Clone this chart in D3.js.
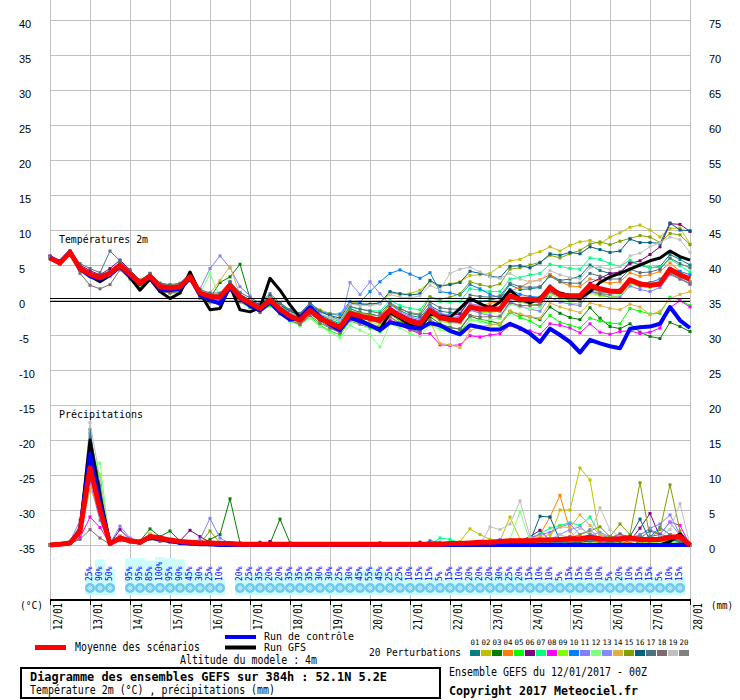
<!DOCTYPE html>
<html>
<head>
<meta charset="utf-8">
<script src="https://cdn.jsdelivr.net/npm/d3@7"></script>
<style>
body{margin:0;background:#fff}
svg{display:block}
</style>
</head>
<body>
<div id="chart"></div>
<script>
// GEFS ensemble diagram, 52.1N 5.2E, run 12/01/2017 00Z, 6-hourly steps 0..384h
const dates = ['12/01','13/01','14/01','15/01','16/01','17/01','18/01','19/01','20/01',
  '21/01','22/01','23/01','24/01','25/01','26/01','27/01','28/01'];
const leftTicks = [40,35,30,25,20,15,10,5,0,-5,-10,-15,-20,-25,-30,-35];
const rightTicks = [75,70,65,60,55,50,45,40,35,30,25,20,15,10,5,0];
const pertNames = ['01','02','03','04','05','06','07','08','09','10','11','12','13','14','15','16','17','18','19','20'];
const pertColors = ['#008080','#c0c000','#008000','#ff8000','#00ff00','#800080','#00ff80','#ff00ff','#80ff00','#0080ff',
  '#8080ff','#80ff80','#8888ff','#e0b040','#80a000','#006080','#507080','#806870','#c0c0c0','#808080'];

// temperature 2m (°C)
const tMean = [6.0,5.3,6.8,4.5,3.7,3.2,3.8,5.0,3.7,2.4,3.4,1.9,1.7,
  1.9,3.3,1.0,0.5,0.4,2.1,0.4,-0.4,-1.2,0.0,-1.3,-2.3,-2.9,
  -1.5,-2.6,-3.3,-3.9,-1.9,-2.3,-2.6,-2.9,-1.4,-2.3,-3.0,-3.4,-1.5,
  -2.5,-2.8,-2.9,-1.0,-1.3,-1.3,-1.3,0.6,0.1,0.1,0.0,1.8,0.7,
  0.6,0.6,2.1,1.6,1.3,1.2,2.9,2.3,2.1,2.3,4.4,3.6,3.0];
const tCtrl = [6.1,5.4,6.9,4.4,3.4,3.0,3.6,4.8,3.5,2.3,3.3,1.5,1.4,
  1.6,3.2,0.7,0.0,-0.5,1.8,0.3,-0.8,-1.5,-0.3,-1.8,-2.8,-2.6,
  -1.0,-2.4,-3.5,-4.3,-2.5,-3.0,-3.6,-4.3,-3.2,-3.5,-3.9,-4.1,-3.3,
  -3.6,-4.4,-4.9,-3.6,-3.9,-4.2,-4.2,-3.4,-4.0,-4.8,-6.0,-4.1,-5.0,
  -6.0,-7.5,-5.7,-6.2,-6.6,-6.9,-4.1,-3.9,-3.8,-3.4,-1.0,-2.9,-4.0];
const tGfs = [6.0,5.2,6.7,4.6,3.4,2.6,3.5,4.8,3.2,1.4,3.0,1.2,0.2,
  1.0,4.0,1.0,-1.4,-1.2,2.0,-1.4,-1.7,-1.1,3.1,1.4,-0.7,-2.5,
  -1.4,-2.8,-3.3,-4.0,-2.2,-2.8,-3.6,-4.2,-1.8,-2.6,-3.6,-3.9,-2.0,
  -2.3,-2.5,-1.2,0.2,-0.5,-1.2,-0.3,1.4,0.2,-0.4,0.3,1.7,1.0,
  0.6,0.2,1.2,2.5,3.3,3.8,4.4,5.0,5.6,6.0,7.0,6.2,5.7];
const t01 = [6.1,5.5,6.9,4.8,3.9,3.5,4.2,5.3,4.0,2.7,3.8,2.3,2.0,
  2.2,3.6,1.3,0.8,0.5,2.6,0.8,-0.2,-0.9,0.4,-1.0,-1.8,-2.5,
  -1.0,-2.1,-2.8,-3.4,-1.2,-1.8,-2.0,-2.3,-0.6,-1.5,-2.2,-2.5,-0.8,
  -1.6,-1.8,-1.9,0.2,-0.2,0.0,0.3,2.2,1.5,1.6,1.8,3.6,2.8,
  3.0,3.4,5.0,4.2,3.8,3.7,5.5,5.0,4.6,4.8,6.5,5.8,5.0];
const t02 = [6.0,5.4,6.8,4.6,3.8,3.0,3.4,4.7,3.9,2.9,3.6,2.4,2.1,
  2.3,3.4,0.9,0.6,0.9,2.4,0.2,-0.3,-0.8,0.6,-0.5,-1.5,-2.0,
  -0.6,-1.4,-1.9,-2.3,-0.3,-0.5,-0.6,-0.5,1.0,0.8,0.9,1.4,2.6,
  1.9,2.3,2.6,3.5,3.6,3.8,4.8,5.6,5.8,6.5,6.9,7.6,7.0,
  7.8,8.3,8.5,8.0,9.0,9.6,10.4,10.7,10.0,9.0,10.2,10.3,8.0];
const t03 = [6.2,5.2,6.9,4.5,3.9,3.4,3.9,5.2,3.8,2.4,3.7,1.9,1.5,
  2.0,3.5,0.9,0.3,2.5,3.3,5.1,0.2,-1.0,0.3,-1.5,-2.6,-3.4,
  -1.9,-3.0,-3.9,-4.6,-2.5,-3.0,-3.5,-3.8,-2.0,-3.0,-3.8,-4.3,-2.4,
  -3.4,-3.9,-4.2,-2.3,-2.8,-3.0,-3.4,-1.6,-2.1,-2.4,-2.8,-1.0,-1.9,
  -2.5,-2.8,-1.1,-2.6,-3.8,-4.1,-3.4,-4.6,-5.2,-5.5,-3.2,-3.8,-4.5];
const t04 = [6.0,5.3,6.7,4.3,3.5,3.0,3.6,4.9,3.3,2.0,3.0,1.5,1.1,
  1.3,3.0,0.4,-0.4,-0.5,1.6,-0.1,-0.9,-1.6,-0.4,-1.6,-2.6,-3.1,
  -1.8,-2.9,-3.6,-4.1,-2.2,-2.5,-2.9,-3.3,-1.6,-2.4,-3.0,-3.5,-1.6,
  -2.4,-2.6,-2.6,-0.6,-0.8,-0.5,-0.2,1.3,1.8,2.6,2.9,3.6,2.6,
  2.0,1.9,3.0,2.7,2.4,2.6,3.9,3.4,3.6,4.1,5.3,4.1,2.6];
const t05 = [5.9,5.2,6.6,4.2,3.4,2.9,3.4,4.6,3.3,2.0,3.2,1.3,1.0,
  1.0,3.0,0.2,-0.3,-0.6,1.4,-0.3,-1.1,-1.7,-0.8,-2.0,-3.0,-3.6,
  -2.4,-3.6,-4.4,-5.0,-3.0,-3.5,-4.0,-4.5,-3.0,-3.6,-4.2,-4.6,-3.0,
  -3.9,-4.3,-4.6,-2.8,-3.0,-3.4,-3.6,-1.8,-2.5,-3.0,-3.8,-2.2,-3.2,
  -3.6,-4.0,-2.6,-3.0,-3.3,-3.4,-1.2,-1.6,-2.0,-1.9,0.4,0.0,-0.8];
const t06 = [6.3,5.5,7.0,5.0,4.2,3.6,4.5,5.7,4.3,2.8,3.6,2.2,2.0,
  2.1,3.3,0.7,0.3,0.2,1.9,0.6,-0.2,-1.0,0.2,-1.1,-2.1,-2.7,
  -1.3,-2.4,-3.0,-3.7,-1.8,-2.2,-2.4,-2.6,-1.0,-1.9,-2.6,-3.0,-1.0,
  -2.0,-2.2,-2.0,0.0,-0.5,-0.9,-1.2,0.5,-0.2,-0.6,-0.8,1.0,0.6,
  0.3,0.5,2.4,3.1,3.8,4.0,5.2,5.6,6.5,7.6,10.9,10.8,9.8];
const t07 = [6.0,5.4,6.8,4.7,3.8,3.3,3.9,5.1,3.9,2.6,3.5,2.0,1.8,
  2.0,3.3,1.2,0.7,0.6,2.2,0.6,-0.1,-0.8,0.5,-0.8,-1.7,-2.4,
  -0.8,-2.0,-2.6,-3.1,-1.0,-1.3,-1.5,-1.6,0.0,-0.8,-1.2,-1.4,0.5,
  -0.2,-0.3,-0.2,1.6,1.4,1.2,1.2,3.0,3.2,3.6,3.8,5.1,4.8,
  4.5,4.4,6.0,5.8,5.2,4.8,5.7,5.0,4.6,4.7,5.9,4.9,4.0];
const t08 = [5.9,5.2,6.6,4.3,3.6,3.1,3.6,4.8,3.5,2.2,3.2,1.6,1.4,
  1.6,3.1,0.7,0.2,0.1,1.8,0.1,-0.6,-1.4,-0.2,-1.6,-2.6,-3.2,
  -1.9,-3.0,-3.8,-4.6,-2.8,-3.3,-3.8,-4.2,-2.8,-3.6,-4.3,-4.8,-4.8,
  -6.4,-6.5,-6.4,-5.1,-5.3,-5.0,-4.8,-3.6,-4.2,-4.4,-4.9,-3.4,-3.6,
  -4.0,-4.7,-3.4,-4.6,-4.9,-4.5,-4.4,-4.8,-4.6,-4.0,-1.1,-0.1,-1.0];
const t09 = [6.0,5.3,6.8,4.4,3.6,3.2,3.8,5.0,3.6,2.3,3.4,1.8,1.6,
  1.8,3.2,0.8,0.3,0.2,2.0,0.2,-0.6,-1.4,-0.2,-1.6,-2.7,-3.3,
  -1.9,-3.0,-3.7,-4.3,-2.4,-2.8,-3.2,-3.5,-2.0,-2.9,-3.6,-4.0,-2.1,
  -3.0,-3.3,-3.3,-1.5,-1.8,-1.8,-1.6,0.2,-0.3,-0.6,-0.7,1.1,0.1,
  -0.4,-0.6,1.0,0.6,0.4,0.6,2.3,1.9,1.8,2.1,3.8,3.3,2.6];
const t10 = [6.1,5.4,6.9,4.7,3.9,3.4,4.0,5.2,3.8,2.6,3.7,2.1,1.8,
  2.0,3.4,1.0,0.6,0.6,2.3,0.8,0.0,-0.7,0.6,-0.6,-1.6,-2.0,
  -0.4,-1.6,-2.0,-2.0,-0.2,-0.3,1.2,2.6,3.8,4.3,3.7,3.1,3.9,
  1.2,1.0,0.7,2.2,1.6,0.8,0.3,1.5,0.8,0.5,0.4,2.0,0.9,
  0.4,0.2,1.6,1.2,1.0,1.4,2.8,2.4,2.5,3.0,4.4,4.1,3.6];
const t11 = [6.0,5.3,6.8,4.6,3.5,3.1,3.9,5.0,3.8,2.5,3.5,2.2,2.0,
  2.2,3.6,1.6,4.5,6.3,4.6,1.9,0.6,-0.8,0.5,-1.2,-2.2,-2.9,
  -1.3,-2.6,-3.4,-4.0,-1.5,-2.1,-2.6,-3.0,-1.2,-2.2,-3.0,-3.5,-1.4,
  -2.6,-3.0,-3.2,-1.4,-1.9,-2.2,-2.5,-0.2,-0.9,-1.3,-1.6,0.4,-0.3,
  -0.6,-0.8,1.2,0.8,0.4,0.4,2.0,1.5,1.2,1.8,3.6,3.0,2.4];
const t12 = [5.9,5.1,6.6,4.3,3.5,3.0,3.5,4.7,3.5,2.1,3.8,1.6,1.5,
  1.6,3.9,0.8,3.8,0.3,1.8,0.0,-0.8,-1.6,-0.4,-2.0,-3.0,-3.6,
  -2.6,-3.8,-4.6,-5.4,-3.6,-4.3,-5.0,-6.7,-3.4,-4.0,-4.8,-5.2,-3.6,
  -4.2,-4.6,-4.7,-2.8,-3.0,-2.8,-2.6,-0.6,-1.0,-1.2,-1.1,0.8,0.2,
  -0.2,-0.2,1.6,1.0,0.6,0.8,2.4,2.1,2.3,2.7,4.2,3.3,2.6];
const t13 = [6.0,5.3,6.7,4.5,3.7,3.3,3.8,5.1,3.6,2.3,3.4,1.9,1.8,
  1.9,3.2,0.9,0.4,0.3,2.0,0.4,-0.5,-1.2,0.1,-1.2,-2.2,-2.7,
  -1.2,-2.4,-3.2,-3.8,2.5,0.8,2.6,0.9,-0.6,-1.7,-2.4,-2.8,-0.9,
  -1.9,-2.2,-2.4,-0.5,-0.8,-1.2,-1.5,0.5,0.0,-0.3,-0.4,1.4,0.4,
  0.0,0.2,2.0,1.4,1.2,1.5,3.0,2.5,2.2,2.2,4.0,3.2,2.2];
const t14 = [6.1,5.4,6.8,4.7,3.8,3.2,3.6,5.4,4.2,2.6,3.4,1.9,1.6,
  1.8,3.4,1.3,1.0,2.8,4.8,0.7,-0.2,-1.0,0.2,-1.2,-2.4,-3.0,
  -1.6,-2.8,-3.6,-4.3,-2.4,-2.9,-3.4,-3.8,-2.5,-3.4,-4.0,-4.4,-3.0,
  -6.2,-6.4,-6.8,-4.4,-3.8,-3.6,-3.4,-1.6,-2.0,-2.4,-2.6,-0.4,-1.0,
  -1.4,-1.8,-0.4,-0.8,-1.2,-1.4,-0.6,-1.0,-2.1,-1.6,0.2,0.8,1.2];
const t15 = [6.0,5.3,6.8,4.5,3.7,3.2,3.7,4.9,3.7,2.4,3.4,1.9,1.7,
  1.9,3.3,1.0,0.5,0.4,2.1,0.5,-0.3,-1.1,0.1,-1.2,-2.2,-2.8,
  -1.3,-2.4,-3.1,-3.6,-1.5,-1.9,-2.1,-2.3,-0.6,-1.3,-1.8,-2.0,0.4,
  0.1,0.4,0.9,2.6,2.2,1.9,2.3,4.4,4.6,5.0,5.4,6.4,6.0,
  6.6,7.1,8.0,8.3,7.9,8.4,8.8,9.2,9.0,8.2,9.5,9.3,7.9];
const t16 = [6.1,5.4,6.9,4.7,3.9,3.4,4.0,5.2,3.9,2.6,3.6,2.1,1.9,
  2.1,3.5,1.2,0.7,0.7,2.4,0.8,0.0,-0.7,0.5,-0.7,-1.6,-2.2,
  -0.7,-1.7,-2.2,-2.6,-0.5,-0.6,-0.6,-0.4,1.2,0.9,0.7,0.9,2.8,
  2.0,2.2,2.5,4.1,3.8,3.4,3.2,4.8,4.9,4.6,5.3,6.6,6.4,
  6.8,6.6,7.6,7.2,6.8,7.0,8.7,8.2,8.2,8.1,11.0,10.0,9.9];
const t17 = [6.2,5.6,7.0,5.2,4.5,3.9,7.0,5.6,4.2,2.8,3.8,2.4,2.2,
  2.4,3.8,1.5,1.0,1.0,2.6,1.1,0.3,-0.4,0.9,-0.4,-1.4,-1.9,
  -0.4,-1.6,-2.3,-2.9,-0.9,-1.3,-1.6,-1.9,-0.4,-1.2,-1.9,-2.2,-0.3,
  -1.1,-1.3,-1.3,0.7,0.5,0.4,0.6,2.4,1.9,1.8,1.9,3.4,2.6,
  2.4,2.4,3.8,3.4,3.0,3.0,4.4,3.9,4.0,4.4,6.0,5.2,4.6];
const t18 = [6.0,5.1,6.5,3.8,2.1,1.6,2.2,4.3,3.0,1.6,2.8,1.2,1.0,
  1.2,2.8,0.4,-0.2,-0.3,1.4,-0.2,-1.0,-1.8,-0.6,-1.9,-2.9,-3.5,
  -2.2,-3.3,-4.0,-4.7,-2.7,-3.2,-3.6,-4.0,-2.4,-3.3,-4.1,-4.6,-2.8,
  -3.6,-4.0,-4.1,-2.2,-2.4,-2.4,-2.3,-0.4,-0.8,-0.8,-0.6,1.2,0.4,
  0.0,-0.2,1.3,0.9,0.8,1.1,2.5,2.0,1.9,2.2,3.8,3.0,2.3];
const t19 = [6.0,5.3,6.8,4.5,3.7,3.3,3.9,5.1,3.8,2.5,3.5,2.0,1.8,
  2.0,3.4,1.1,0.6,0.5,2.2,0.6,-0.1,-0.9,0.3,-0.9,-1.9,-2.4,
  -0.9,-2.0,-2.5,-2.9,-0.6,-0.8,-0.8,-0.6,0.8,0.4,0.3,0.6,2.1,
  1.4,3.8,4.4,4.7,4.0,3.3,3.1,3.8,3.0,2.6,2.8,4.2,3.6,
  3.2,3.0,4.6,4.7,4.4,4.8,6.3,6.7,7.6,8.2,9.0,8.6,6.8];
const t20 = [6.0,5.3,6.7,4.4,3.5,3.0,3.6,4.8,3.5,2.2,3.2,1.7,1.5,
  1.7,3.1,0.8,0.3,0.2,1.9,0.2,-0.6,-1.4,-0.2,-1.6,-2.6,-3.2,
  -1.8,-2.9,-3.6,-4.2,-2.2,-2.6,-2.9,-3.2,-1.7,-2.6,-3.3,-3.7,-1.8,
  -2.8,-3.1,-3.2,-1.3,-1.6,-1.6,-1.6,0.3,-0.2,-0.3,-0.4,1.4,0.4,
  0.1,0.0,1.7,1.2,1.0,1.2,2.8,2.2,2.0,2.3,4.0,3.3,2.6];

// precipitation per 6h (mm), right axis
const pMean = [0,0.1,0.3,1.9,11.0,5.0,0.2,1.0,0.6,0.4,1.2,1.0,0.7,
  0.5,0.4,0.3,0.3,0.2,0.2,0.1,0.1,0.1,0.1,0.1,0.1,0.1,
  0.1,0.1,0.1,0.1,0.1,0.1,0.1,0.1,0.1,0.1,0.1,0.1,0.1,
  0.1,0.2,0.2,0.3,0.4,0.4,0.5,0.6,0.6,0.6,0.7,0.7,0.8,
  0.9,0.9,1.1,0.9,0.8,0.9,1.0,0.8,0.8,0.8,1.1,1.2,0];
const pCtrl = [0,0.1,0.3,2.0,13.0,6.0,0.2,1.0,0.6,0.4,1.1,0.9,0.6,
  0.3,0.2,0.1,0.1,0,0,0,0,0,0,0,0,0,
  0,0,0,0,0,0,0,0,0,0,0,0,0,
  0,0,0,0,0,0,0,0,0,0,0,0,0,
  0,0,0,0,0,0,0,0,0,0,0,0,0];
const pGfs = [0,0.1,0.3,2.2,15.0,7.0,0.2,1.0,0.5,0.3,1.0,0.8,0.5,
  0.3,0.2,0.1,0.1,0,0,0,0,0,0,0,0,0,
  0,0,0,0,0,0,0,0,0,0,0,0,0,
  0,0,0,0,0,0,0,0,0,0,0,0,0,
  0,0,0,0,0,0,0,0,0,0,0.5,1.6,0];
const p01 = [0,0.1,0.3,1.8,13.5,6.0,0.2,1.0,0.5,0.3,1.0,0.8,0.5,
  0.3,0.2,0.1,0.1,0,0,0,0,0,0,0,0,0,
  0,0,0,0,0,0,0,0,0,0,0,0,0,
  0,0,0,0,0.2,0,0,0,0.3,0,0,0.5,0,
  0.8,0,0.3,0,0.5,0,1.2,0,0.6,0.3,0.8,0.4,0];
const p02 = [0,0.1,0.2,1.5,12.0,5.5,0.3,1.2,0.6,0.4,1.4,0.9,0.6,
  0.4,0.3,0.2,0.2,0.1,0,0,0,0,0,0,0,0,
  0,0,0,0,0,0,0,0,0,0,0,0,0,
  0,0,0.5,2.3,1.5,0.8,0.6,4.0,0.8,0.5,0.4,1.0,5.0,
  5.0,11.0,9.3,1.0,0.4,0.8,1.2,0.3,0.5,0.9,0.4,0.6,0];
const p03 = [0,0.1,0.3,2.2,14.5,7.0,0.1,0.8,0.9,0.6,2.3,1.2,2.0,
  0.6,0.3,0.2,0.8,1.5,6.6,0.3,0.2,0.4,0.2,3.7,0.3,0.1,
  0,0,0.2,0,0,0,0,0,0,0,0,0,0,
  0,0,0,0,0,0,0,0.5,0,0,0,0.3,0,
  0,0.5,0,0,0.3,0,0,0.4,0,0,0.6,0.3,0];
const p04 = [0,0.1,0.3,1.6,12.5,5.0,0.2,1.1,0.6,0.4,1.3,0.9,0.6,
  0.4,0.3,0.2,0.2,0.1,0.1,0,0,0,0,0,0,0,
  0,0,0,0,0,0,0,0,0,0,0,0,0,
  0,0,0,0,0.2,0.4,0.3,0.5,0.6,0.8,1.5,4.0,7.1,
  2.0,0.4,0.3,0.8,0.5,0.3,0.4,0.6,0.3,0.5,0.8,0.4,0];
const p05 = [0,0.1,0.4,2.6,15.5,9.0,0.2,0.9,0.5,0.3,1.0,0.8,0.5,
  0.3,0.2,0.1,0.3,0.2,0.1,0,0,0,0,0,0,0,
  0,0,0,0,0,0,0,0,0,0,0,0,0,
  0,0,0,0,0,0,0,0,0,0,0,0.2,0,
  0,0,0,0.3,0,0,0,0,0.2,0,0.3,0,0];
const p06 = [0,0.1,0.2,1.4,11.0,4.5,0.2,2.2,0.8,0.5,1.5,1.0,0.8,
  0.6,2.1,1.2,0.4,0.2,0.1,0,0,0,0.5,0,0,0,
  0,0,0,0,0,0,0,0.3,0,0,0,0.4,0,
  0,0,0,0,0,0,0,0.3,0.6,1.2,2.1,0.6,0.4,
  0.3,0.5,1.0,0.6,0.8,0.4,0.6,2.4,4.5,1.2,0.8,0.6,0];
const p07 = [0,0.1,0.3,2.0,13.0,7.5,0.3,1.0,0.7,0.4,1.1,0.8,0.6,
  0.3,0.4,0.2,0.3,0.1,0.1,0,0,0,0,0,0,0,
  0,0,0,0,0,0,0,0,0,0,0,0,0,
  1.0,0.8,0.3,0,0,0,0,0.3,0.5,1.0,1.6,2.4,2.8,
  3.2,2.8,4.0,1.5,1.0,0.6,0.8,1.2,0.5,0.9,0.6,0.4,0];
const p08 = [0,0.1,0.2,1.0,4.0,2.5,0.2,0.8,0.5,0.3,0.9,0.6,0.4,
  0.2,0.2,0.1,0.1,0,0,0,0,0,0,0,0,0,
  0,0,0,0,0,0,0,0,0,0,0,0,0,
  0,0,0,0,0,0,0,0,0,0,0,0.3,0,
  0,0.2,0.5,0.3,0.4,0.8,1.0,0.6,1.2,1.5,3.3,2.8,0];
const p09 = [0,0.1,0.3,2.4,14.0,10.0,0.1,1.0,0.6,0.4,1.2,0.9,0.7,
  0.4,0.3,0.2,0.2,0.1,0,0,0,0,0,0,0,0,
  0,0,0,0,0,0,0,0,0,0,0,0,0,
  0,0,0,0,0,0,0,0,0,0,0,0.4,0.3,
  0.5,0.3,0.6,0.2,0.4,0.3,0.8,0.5,0.3,0.6,0.4,0.8,0];
const p10 = [0,0.1,0.3,1.8,16.0,8.0,0.2,1.2,0.5,0.4,1.0,0.8,0.5,
  0.3,0.2,0.2,0.1,0.4,0.1,0,0,0,0,0,0,0,
  0,0,0,0,0,0,0,0,0,0,0,0,0.6,
  0.4,0,0,0,0,0,0.2,0,0.3,0,0.2,0.4,0.3,
  0.5,0.8,0.4,0.6,0.8,1.5,1.2,0.8,1.2,2.5,1.5,1.0,0];
const p11 = [0,0.1,0.5,3.5,9.0,3.5,0.2,2.7,1.0,0.5,1.2,1.0,0.6,
  0.4,0.3,0.8,3.8,1.0,0.2,0,0,0,0,0,0,0,
  0,0,0,0,0,0,0,0,0,0,0,0,0,
  0,0,0,0,0.2,0.4,0.8,0.6,0.5,1.0,1.5,1.8,2.6,
  3.0,1.5,2.2,0.8,1.2,1.0,0.6,1.4,2.4,3.0,4.3,1.5,0];
const p12 = [0,0.1,0.3,2.0,12.0,11.7,0.1,0.7,0.6,0.3,1.1,0.8,0.5,
  0.3,0.2,0.1,0.2,0.1,0,0,0,0,0,0,0,0,
  0,0,0,0,0,0,0,0,0,0,0,0,0,
  0,0,0,0,0,0.3,0.5,0.8,4.8,0.6,0.3,0.4,0.6,
  0.3,0.5,0.3,0.6,0.4,0.3,0.8,0.5,0.6,0.3,0.4,0.5,0];
const p13 = [0,0.1,0.3,1.7,10.5,4.5,0.2,1.3,0.6,0.4,1.3,0.9,0.6,
  0.4,0.3,0.2,0.2,0.1,0,0,0,0,0,0,0,0,
  0,0,0,0,0,0,0,0,0,0,0,0,0,
  0,0,0,0,0,0,0.3,0.5,0.4,0.6,1.0,0.8,1.5,
  2.2,2.6,1.4,1.8,1.2,0.8,1.0,1.5,2.2,1.6,3.2,1.4,0];
const p14 = [0,0.1,0.3,1.5,8.0,5.0,0.3,1.3,0.8,0.5,1.6,1.0,0.7,
  0.4,0.3,0.2,0.3,0.2,0.1,0,0,0,0,0,0,0,
  0,0,0,0,0,0,0,0,0,0,0,0,0,
  0,0,0,0,0,0,0.4,0.3,0.6,0.5,1.2,1.5,2.6,
  2.5,4.3,2.8,1.5,1.2,0.8,0.6,0.5,0.4,0.8,1.0,0.6,0];
const p15 = [0,0.1,0.3,2.1,14.0,6.5,0.2,1.0,0.6,0.4,1.2,0.9,0.6,
  0.3,0.3,0.2,2.0,0.3,0.1,0,0,0,0,0,0,0,
  0,0,0,0,0,0,0,0,0,0,0,0,0,
  0,0,0,0,0,0,0,0,0.3,0.5,0.4,0.6,0.8,
  1.0,1.5,2.0,2.6,1.2,3.0,1.5,8.9,1.0,2.2,8.6,2.0,0];
const p16 = [0,0.1,0.3,2.3,15.0,8.5,0.2,0.9,0.6,0.4,1.1,0.9,0.6,
  0.3,0.2,0.2,0.1,0.1,0,0,0,0,0,0,0,0,
  0,0,0,0,0,0,0,0,0,0,0,0,0,
  0,0,0,0,0,0,0,0,0.3,0.5,4.1,4.0,0.6,
  0.3,0.4,0.6,0.8,0.5,0.9,1.2,3.7,0.6,1.2,0.8,0.5,0];
const p17 = [0,0.1,0.4,2.8,16.5,7.0,0.2,1.0,0.5,0.3,1.0,0.7,0.5,
  0.3,0.2,0.1,0.1,0,0,0,0,0,0,0,0,0,
  0,0,0,0,0,0,0,0,0,0,0,0,0,
  0,0,0,0,0,0,0,0,0,0,0.3,0.5,0.8,
  1.2,0.8,0.6,0.5,0.3,0.5,0.8,1.0,2.0,1.5,1.2,0.6,0];
const p18 = [0,0.1,0.2,0.8,2.2,1.0,0.1,0.6,0.4,0.3,0.8,0.5,0.4,
  0.2,0.1,0.1,0,0,0,0,0,0,0,0,0,0,
  0,0,0,0,0,0,0,0,0,0,0,0,0,
  0,0,0,0,0,0,0,0,0,0,0.3,0.8,0.5,
  0.4,0.6,0.8,0.5,1.0,1.6,0.8,0.6,0.5,0.8,1.2,0.6,0];
const p19 = [0,0.1,0.3,2.5,17.5,9.5,0.2,0.9,0.6,0.4,1.0,0.8,0.6,
  0.3,0.2,0.1,0.1,0,0,0,0,0,0,0,0,0,
  0,0,0,0,0,0,0,0,0,0,0,0,0,
  0,0,0,0,0,2.6,2.2,3.0,6.3,1.2,0.6,0.8,1.5,
  1.0,2.4,1.6,5.3,2.2,1.2,0.8,1.0,0.6,1.2,2.2,5.9,0];
const p20 = [0,0.1,0.3,2.2,14.5,6.5,0.2,1.1,0.6,0.4,1.2,0.9,0.6,
  0.4,0.3,0.2,0.2,0.1,0,0,0,0,0,0,0,0,
  0,0,0,0,0,0,0,0,0,0,0,0,0,
  0,0,0,0,0,0,0,0,0.2,0.3,0.5,0.6,0.9,
  1.1,0.8,1.5,1.0,0.6,0.8,1.0,1.3,0.8,1.0,1.5,1.0,0];

// snow probability (%) per 6h step
const snowHours = [24,30,36, 48,54,60,66,72,78,84,90,96,102,
  114,120,126,132,138,144,150,156,162,168,174,180,186,192,198,204,210,216,222,228,234,240,246,252,258,264,270,
  276,282,288,294,300,306,312,318,324,330,336,342,348,354,360,366,372,378];
const snowPct = [25,90,50, 95,95,85,100,95,90,45,30,25,10,
  20,25,35,20,20,35,35,35,30,30,25,30,45,55,45,25,25,10,15,15,5,15,10,20,20,20,30,
  25,20,15,10,10,5,15,15,10,10,5,20,10,15,15,5,10,15];

const tempPerts = [t01,t02,t03,t04,t05,t06,t07,t08,t09,t10,t11,t12,t13,t14,t15,t16,t17,t18,t19,t20];
const precPerts = [p01,p02,p03,p04,p05,p06,p07,p08,p09,p10,p11,p12,p13,p14,p15,p16,p17,p18,p19,p20];

const W = 740, H = 700;
const MONO = '"DejaVu Sans Mono", monospace';
const SANS = '"Liberation Sans", Arial, sans-serif';
const hours = d3.range(0, 385, 6);
const dayHours = d3.range(0, 385, 24);

const x = d3.scaleLinear().domain([0, 384]).range([50, 690]);
const yT = d3.scaleLinear().domain([-35, 40]).range([545, 20]);
const yP = d3.scaleLinear().domain([0, 75]).range([545, 20]);
const barH = d3.scaleLinear().domain([0, 100]).range([13.6, 38]);

const svg = d3.select('#chart').append('svg').attr('width', W).attr('height', H)
  .style('font-family', MONO);
svg.append('rect').attr('width', W).attr('height', H).attr('fill', '#fff');

// grid
const grid = svg.append('g').attr('stroke', '#c0c0c0').attr('shape-rendering', 'crispEdges');
grid.selectAll('line.h').data(leftTicks).join('line').attr('class', 'h')
  .attr('x1', 50).attr('x2', 690).attr('y1', d => yT(d) + 0.5).attr('y2', d => yT(d) + 0.5);
grid.selectAll('line.v').data(dayHours).join('line').attr('class', 'v')
  .attr('x1', d => x(d) + 0.5).attr('x2', d => x(d) + 0.5).attr('y1', 0).attr('y2', 630);

// snow probability bars
const snow = svg.append('g');
snow.selectAll('rect').data(snowHours).join('rect')
  .attr('x', d => x(d) - 5).attr('width', 10)
  .attr('y', (d, i) => 595 - barH(snowPct[i])).attr('height', (d, i) => barH(snowPct[i]))
  .attr('fill', '#ccfcfc');
const flakes = snow.selectAll('g.fl').data(snowHours).join('g').attr('class', 'fl')
  .attr('transform', d => `translate(${x(d)},588)`);
flakes.append('circle').attr('r', 5).attr('fill', '#6cc8ee');
flakes.append('path').attr('d', 'M-3,0H3M0,-3V3M-2,-2L2,2M-2,2L2,-2')
  .attr('stroke', '#c4ecfa').attr('stroke-width', 1);
snow.selectAll('text').data(snowHours).join('text')
  .attr('transform', d => `translate(${x(d) + 2},581) rotate(-90)`)
  .attr('font-size', 8).attr('fill', '#0000ff')
  .text((d, i) => snowPct[i] + '%');

// series
const lineT = d3.line().x((d, i) => x(hours[i])).y(d => yT(d));
const lineP = d3.line().x((d, i) => x(hours[i])).y(d => yP(d));
const pg = svg.append('g').attr('fill', 'none');
tempPerts.forEach((s, k) => {
  const c = pertColors[k];
  pg.append('path').attr('d', lineT(s)).attr('stroke', c).attr('stroke-width', 1);
  pg.append('path').attr('d', lineP(precPerts[k])).attr('stroke', c).attr('stroke-width', 1);
  const mk = pg.append('g').attr('fill', c);
  mk.selectAll('rect.t').data(s).join('rect').attr('class', 't')
    .attr('x', (d, i) => x(hours[i]) - 1.5).attr('y', d => yT(d) - 1.5).attr('width', 3).attr('height', 3);
  mk.selectAll('rect.p').data(precPerts[k]).join('rect').attr('class', 'p')
    .attr('x', (d, i) => x(hours[i]) - 1.5).attr('y', d => yP(d) - 1.5).attr('width', 3).attr('height', 3);
});

// zero line (double)
svg.append('g').attr('stroke', '#000').attr('shape-rendering', 'crispEdges')
  .selectAll('line').data([-1, 2]).join('line')
  .attr('x1', 50).attr('x2', 690).attr('y1', d => yT(0) + d - 0.5).attr('y2', d => yT(0) + d - 0.5);

const thick = svg.append('g').attr('fill', 'none').attr('stroke-linejoin', 'round');
thick.append('path').attr('d', lineT(tGfs)).attr('stroke', '#000').attr('stroke-width', 3);
thick.append('path').attr('d', lineP(pGfs)).attr('stroke', '#000').attr('stroke-width', 3);
thick.append('path').attr('d', lineT(tCtrl)).attr('stroke', '#0000ff').attr('stroke-width', 4);
thick.append('path').attr('d', lineP(pCtrl)).attr('stroke', '#0000ff').attr('stroke-width', 4);
thick.append('path').attr('d', lineT(tMean)).attr('stroke', '#ff0000').attr('stroke-width', 5);
thick.append('path').attr('d', lineP(pMean)).attr('stroke', '#ff0000').attr('stroke-width', 5);

// bottom axis
svg.append('line').attr('x1', 50).attr('x2', 691).attr('y1', 600).attr('y2', 600)
  .attr('stroke', '#000').attr('stroke-width', 2);
svg.append('g').attr('stroke', '#000').attr('shape-rendering', 'crispEdges')
  .selectAll('line').data(dayHours).join('line')
  .attr('x1', d => x(d) + 0.5).attr('x2', d => x(d) + 0.5).attr('y1', 600).attr('y2', 605);
svg.append('g').selectAll('text').data(dayHours).join('text')
  .attr('transform', d => `translate(${x(d) + 12},630) rotate(-90)`)
  .attr('font-size', 12).attr('textLength', 27).attr('lengthAdjust', 'spacingAndGlyphs')
  .text((d, i) => dates[i]);

// y labels
svg.append('g').attr('font-family', SANS).attr('font-size', 11)
  .selectAll('text').data(leftTicks).join('text')
  .attr('x', 19).attr('y', d => yT(d) + 8).text(d => d);
svg.append('g').attr('font-family', SANS).attr('font-size', 11)
  .selectAll('text').data(rightTicks).join('text')
  .attr('x', 709).attr('y', d => yP(d) + 8).text(d => d);

// texts
const txt = (s, x0, y0, len, opts = {}) => svg.append('text')
  .attr('x', x0).attr('y', y0).attr('font-size', opts.size || 11.5)
  .attr('font-weight', opts.bold ? 'bold' : null)
  .attr('textLength', len).attr('lengthAdjust', 'spacingAndGlyphs').text(s);

txt('Températures 2m', 59, 243, 89, {size: 11});
txt('Précipitations', 59, 418, 84, {size: 11});
txt('(°C)', 20, 609, 23, {size: 11});
txt('(mm)', 711, 609, 22, {size: 11});

// legend
svg.append('line').attr('x1', 35).attr('x2', 66).attr('y1', 647.5).attr('y2', 647.5)
  .attr('stroke', '#ff0000').attr('stroke-width', 5);
txt('Moyenne des scénarios', 75, 651, 125);
svg.append('line').attr('x1', 225).attr('x2', 256).attr('y1', 637).attr('y2', 637)
  .attr('stroke', '#0000ff').attr('stroke-width', 4);
txt('Run de contrôle', 264, 640, 90, {size: 10.5});
svg.append('line').attr('x1', 225).attr('x2', 256).attr('y1', 647.5).attr('y2', 647.5)
  .attr('stroke', '#000').attr('stroke-width', 4);
txt('Run GFS', 264, 651, 42, {size: 10.5});
txt('Altitude du modele : 4m', 180, 664, 137);

txt('20 Perturbations', 369, 656, 92, {size: 10.5});
const sw = svg.append('g');
sw.selectAll('rect').data(pertNames).join('rect')
  .attr('x', (d, i) => 470 + i * 11).attr('y', 650).attr('width', 10).attr('height', 6)
  .attr('fill', (d, i) => pertColors[i]);
sw.selectAll('text').data(pertNames).join('text')
  .attr('x', (d, i) => 475 + i * 11).attr('y', 645).attr('text-anchor', 'middle')
  .attr('font-size', 7.5).attr('textLength', 9).attr('lengthAdjust', 'spacingAndGlyphs')
  .text(d => d);

svg.append('rect').attr('x', 21).attr('y', 668).attr('width', 419).attr('height', 30)
  .attr('fill', 'none').attr('stroke', '#000').attr('stroke-width', 2);
txt('Diagramme des ensembles GEFS sur 384h : 52.1N 5.2E', 30, 681, 357, {bold: true});
txt('Température 2m (°C) , précipitations (mm)', 30, 694, 245);
txt('Ensemble GEFS du 12/01/2017 - 00Z', 449, 676, 198);
txt('Copyright 2017 Meteociel.fr', 449, 695, 189, {bold: true});
</script>
</body>
</html>
